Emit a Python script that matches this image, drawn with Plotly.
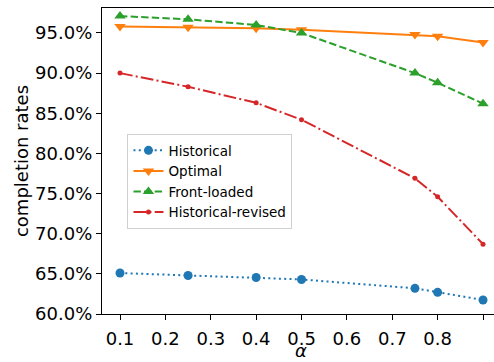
import plotly.graph_objects as go

alpha = [0.1, 0.25, 0.4, 0.5, 0.75, 0.8, 0.9]
historical = [65.1, 64.8, 64.55, 64.3, 63.2, 62.7, 61.75]
optimal = [95.8, 95.7, 95.6, 95.4, 94.8, 94.6, 93.8]
front_loaded = [97.1, 96.7, 96.0, 95.0, 90.0, 88.8, 86.2]
historical_revised = [90.0, 88.3, 86.3, 84.2, 76.9, 74.6, 68.7]

x_ticks = [0.1, 0.2, 0.3, 0.4, 0.5, 0.6, 0.7, 0.8, 0.9]
y_ticks = [60, 65, 70, 75, 80, 85, 90, 95]
y_tick_labels = ["60.0%", "65.0%", "70.0%", "75.0%", "80.0%", "85.0%", "90.0%", "95.0%"]

FONT = "DejaVu Sans"

fig = go.Figure()
fig.add_trace(go.Scatter(x=alpha, y=historical, name="Historical", mode="lines+markers",
                         line=dict(color="#1f77b4", width=2, dash="2px,3.3px"),
                         marker=dict(symbol="circle", size=9, color="#1f77b4")))
fig.add_trace(go.Scatter(x=alpha, y=optimal, name="Optimal", mode="lines+markers",
                         line=dict(color="#ff7f0e", width=2),
                         marker=dict(symbol="triangle-down", size=10, color="#ff7f0e")))
fig.add_trace(go.Scatter(x=alpha, y=front_loaded, name="Front-loaded", mode="lines+markers",
                         line=dict(color="#2ca02c", width=2, dash="7.4px,3.2px"),
                         marker=dict(symbol="triangle-up", size=10, color="#2ca02c")))
fig.add_trace(go.Scatter(x=alpha, y=historical_revised, name="Historical-revised", mode="lines+markers",
                         line=dict(color="#d62728", width=2, dash="12.8px,3.2px,2px,3.2px"),
                         marker=dict(symbol="circle", size=5, color="#d62728")))

fig.update_layout(
    width=494, height=362,
    margin=dict(l=102, r=0, t=8, b=48),
    paper_bgcolor="white", plot_bgcolor="white",
    font=dict(family=FONT, color="black", size=18),
    showlegend=True,
    legend=dict(x=0.065, y=0.588, xanchor="left", yanchor="top",
                bgcolor="rgba(255,255,255,0.8)", bordercolor="#d0d0d0", borderwidth=1,
                font=dict(family=FONT, size=13.5), tracegroupgap=0,
                itemwidth=30),
)
fig.add_annotation(text="<i>α</i>", xref="paper", yref="paper",
                   x=(301 - 102) / 392, y=(314 - 362) / 306,
                   xanchor="center", yanchor="bottom", showarrow=False,
                   font=dict(family=FONT, size=18, color="black"), borderpad=0)
fig.update_xaxes(range=[0.0603, 0.9242], tickvals=x_ticks, tickformat=".1f",
                 automargin=False, ticklabelstandoff=3,
                 showgrid=False, zeroline=False, showline=True, linecolor="black", linewidth=1.2,
                 mirror=True, ticks="outside", ticklen=5, tickcolor="black",
                 tickfont=dict(size=18))
fig.update_yaxes(range=[60, 98.11], tickvals=y_ticks, ticktext=y_tick_labels,
                 automargin=False,
                 showgrid=False, zeroline=False, showline=True, linecolor="black", linewidth=1.2,
                 ticks="outside", ticklen=5, tickcolor="black",
                 tickfont=dict(size=18),
                 title=dict(text="completion rates", font=dict(size=18), standoff=1))

fig.write_html("out.html", config={"displayModeBar": False},
               post_script="document.body.style.margin='0px';")
